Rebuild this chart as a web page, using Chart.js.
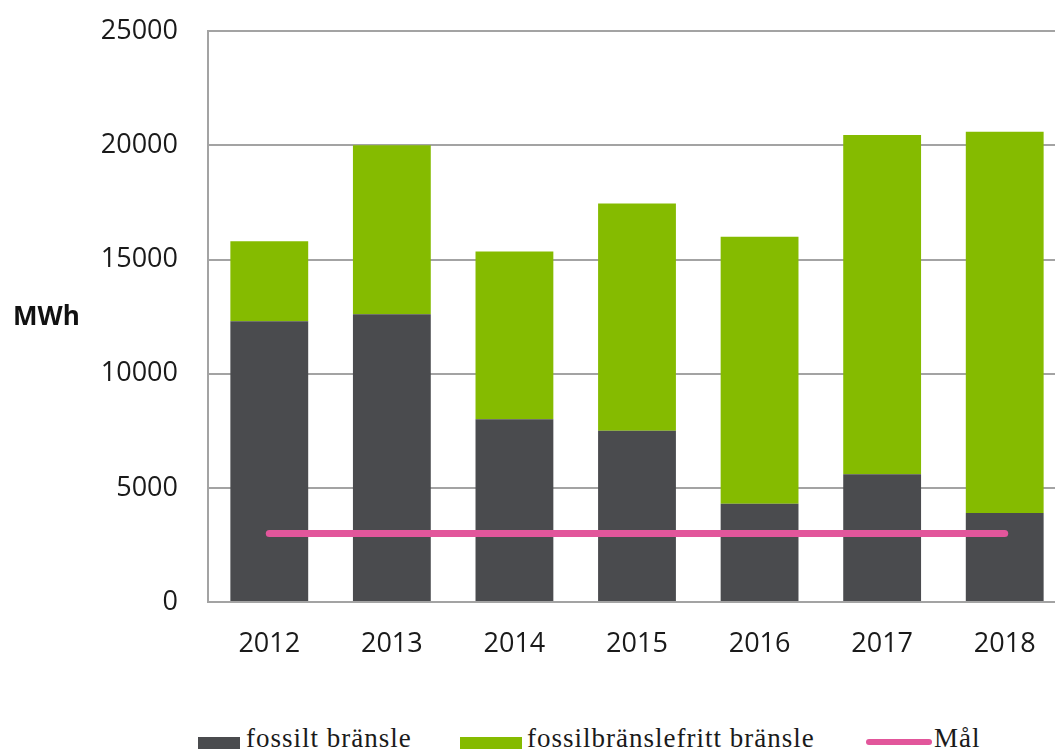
<!DOCTYPE html>
<html>
<head>
<meta charset="utf-8">
<script src="https://cdn.jsdelivr.net/npm/chart.js@4.4.1/dist/chart.umd.min.js"></script>
<style>
  html, body { margin: 0; padding: 0; background: #fff; overflow: hidden; }
  body { width: 1055px; height: 749px; position: relative; }
  #wrap { position: absolute; left: 0; top: -15px; width: 1066px; height: 715px; }
  .leg { position: absolute; font-family: "Liberation Serif", serif; font-size: 27px;
         letter-spacing: 1px; line-height: 27px; color: #1a1a1a; top: 725px; white-space: nowrap; }
  .box { position: absolute; }
</style>
</head>
<body>
<div id="wrap"><canvas id="chart"></canvas></div>

<!-- legend -->
<div class="box" style="left:198px; top:737px; width:42px; height:13px; background:#4a4b4e;"></div>
<div class="leg" style="left:246px;">fossilt bränsle</div>
<div class="box" style="left:460px; top:737px; width:62px; height:13px; background:#85bb00;"></div>
<div class="leg" style="left:527px;">fossilbränslefritt bränsle</div>
<div class="box" style="left:866px; top:739px; width:66px; height:6px; border-radius:3px; background:#e2569b;"></div>
<div class="leg" style="left:934px;">Mål</div>

<script>
// ===== Data =====
const years = ['2012', '2013', '2014', '2015', '2016', '2017', '2018'];
const fossil = [12300, 12600, 8000, 7500, 4300, 5600, 3900];
const fossilFree = [3500, 7400, 7350, 9950, 11700, 14850, 16700];
const goal = [3000, 3000, 3000, 3000, 3000, 3000, 3000];
const yTicks = [0, 5000, 10000, 15000, 20000, 25000];

const gridColor = '#a3a3a3';
const tickFont = { family: 'Open Sans', size: 27 };

// ===== Horizontal "MWh" axis title =====
const unitLabel = {
    id: 'unitLabel',
    afterDraw(chart) {
        const ctx = chart.ctx;
        ctx.save();
        ctx.font = 'bold 26px "Open Sans"';
        ctx.fillStyle = '#111';
        ctx.textAlign = 'left';
        ctx.textBaseline = 'middle';
        ctx.fillText('MWh', 13, 333);
        ctx.restore();
    }
};

const ctx = document.getElementById('chart').getContext('2d');
new Chart(ctx, {
    type: 'bar',
    data: {
        labels: years,
        datasets: [
            {
                type: 'line',
                label: 'Mål',
                data: goal,
                borderColor: '#e2569b',
                borderWidth: 7,
                borderCapStyle: 'round',
                pointRadius: 0,
                fill: false,
                stack: 'goal',
                order: 0
            },
            {
                label: 'fossilt bränsle',
                data: fossil,
                backgroundColor: '#4a4b4e',
                stack: 'energy',
                order: 1
            },
            {
                label: 'fossilbränslefritt bränsle',
                data: fossilFree,
                backgroundColor: '#85bb00',
                stack: 'energy',
                order: 2
            }
        ]
    },
    options: {
        responsive: true,
        maintainAspectRatio: false,
        animation: false,
        layout: { padding: { top: 15, left: 0, right: 0, bottom: 0 } },
        datasets: {
            bar: { categoryPercentage: 1, barPercentage: 0.635 }
        },
        plugins: {
            legend: { display: false },
            tooltip: { enabled: false }
        },
        scales: {
            x: {
                stacked: true,
                grid: { display: false },
                border: { display: false },
                ticks: { font: tickFont, color: '#1a1a1a', padding: 18 },
                afterFit: (scale) => { scale.height = 98; }
            },
            y: {
                stacked: true,
                min: 0,
                max: 25000,
                afterBuildTicks: (scale) => { scale.ticks = yTicks.map(v => ({ value: v })); },
                grid: { color: gridColor, lineWidth: 2, drawTicks: false },
                border: { display: true, color: gridColor, width: 2 },
                ticks: { font: tickFont, color: '#1a1a1a', padding: 30, callback: (v) => String(v) },
                afterFit: (scale) => { scale.width = 208; }
            }
        }
    },
    plugins: [unitLabel]
});
</script>
</body>
</html>
